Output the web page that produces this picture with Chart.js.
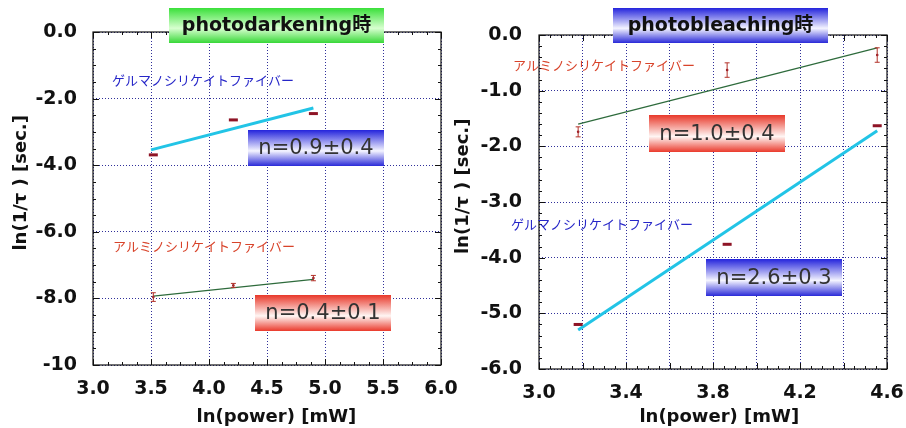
<!DOCTYPE html>
<html><head><meta charset="utf-8">
<script src="https://cdn.jsdelivr.net/npm/chart.js@4/dist/chart.umd.min.js"></script>
<style>
html,body{margin:0;padding:0;background:#fff;}
#wrap{position:relative;width:906px;height:428px;background:#fff;overflow:hidden;}
canvas{position:absolute;top:0;}
</style></head><body>
<div id="wrap">
<canvas id="c1" width="472" height="428" style="left:0"></canvas>
<canvas id="c2" width="453" height="428" style="left:453px"></canvas>
</div>
<script>
// ---------- data ----------
const darkPower = [3.52, 4.21, 4.90];
const darkGeValues = [-3.69, -2.64, -2.45];
const darkAlValues = [-7.96, -7.61, -7.39];
const darkAlErrors = [0.13, 0.06, 0.08];
const darkGeFitX = [3.50, 4.90];
const darkGeFitY = [-3.54, -2.28];
const darkAlFitX = [3.52, 4.90];
const darkAlFitY = [-7.93, -7.43];

const bleachPower = [3.18, 3.865, 4.555];
const bleachAlValues = [-1.74, -0.63, -0.36];
const bleachAlErrors = [0.09, 0.13, 0.13];
const bleachGeValues = [-5.20, -3.76, -1.63];
const bleachAlFitX = [3.18, 4.555];
const bleachAlFitY = [-1.60, -0.23];
const bleachGeFitX = [3.18, 4.555];
const bleachGeFitY = [-5.30, -1.72];

const darkXTicks = [3.0, 3.5, 4.0, 4.5, 5.0, 5.5, 6.0];
const darkXLabels = ['3.0', '3.5', '4.0', '4.5', '5.0', '5.5', '6.0'];
const darkYTicks = [0, -2, -4, -6, -8, -10];
const darkYLabels = ['0.0', '-2.0', '-4.0', '-6.0', '-8.0', '-10'];
const bleachXTicks = [3.0, 3.2, 3.4, 3.6, 3.8, 4.0, 4.2, 4.4, 4.6];
const bleachXLabels = ['3.0', '', '3.4', '', '3.8', '', '4.2', '', '4.6'];
const bleachYTicks = [0, -1, -2, -3, -4, -5, -6];
const bleachYLabels = ['0.0', '-1.0', '-2.0', '-3.0', '-4.0', '-5.0', '-6.0'];

const geName = 'ゲルマノシリケイトファイバー';
const alName = 'アルミノシリケイトファイバー';
const darkTitle = 'photodarkening時';
const bleachTitle = 'photobleaching時';
const darkGeFitLabel = 'n=0.9±0.4';
const darkAlFitLabel = 'n=0.4±0.1';
const bleachAlFitLabel = 'n=1.0±0.4';
const bleachGeFitLabel = 'n=2.6±0.3';
const xTitle = 'ln(power) [mW]';
const yTitle = 'ln(1/τ ) [sec.]';

// ---------- helpers ----------
const pts = (xs, ys) => xs.map((x, i) => ({x: x, y: ys[i]}));
const LAT = '"DejaVu Sans", "Noto Sans CJK JP", sans-serif';
const CJK = '"Noto Sans CJK JP", sans-serif';

const extrasPlugin = {
  id: 'extras',
  afterDatasetsDraw(chart, args, o) {
    const ctx = chart.ctx, xs = chart.scales.x, ys = chart.scales.y, a = chart.chartArea;
    // error bars
    chart.data.datasets.forEach(ds => {
      if (!ds.errors) return;
      ctx.save();
      ctx.strokeStyle = ds.errorColor; ctx.lineWidth = 1;
      ds.data.forEach((p, i) => {
        const x = xs.getPixelForValue(p.x);
        const y1 = ys.getPixelForValue(p.y + ds.errors[i]);
        const y2 = ys.getPixelForValue(p.y - ds.errors[i]);
        ctx.beginPath();
        ctx.moveTo(x, y1); ctx.lineTo(x, y2);
        ctx.moveTo(x - 2.5, y1); ctx.lineTo(x + 2.5, y1);
        ctx.moveTo(x - 2.5, y2); ctx.lineTo(x + 2.5, y2);
        ctx.stroke();
      });
      ctx.restore();
    });
    // frame + inward ticks
    ctx.save();
    ctx.strokeStyle = '#111'; ctx.lineWidth = 1.2;
    ctx.strokeRect(a.left, a.top, a.right - a.left, a.bottom - a.top);
    ctx.lineWidth = 1;
    ctx.beginPath();
    const nx = Math.round((xs.max - xs.min) / o.minorX);
    for (let i = 0; i <= nx; i++) {
      const v = xs.min + i * o.minorX;
      const x = Math.round(xs.getPixelForValue(v)) + 0.5;
      const len = (i % o.majorEveryX === 0) ? 6 : 3;
      ctx.moveTo(x, a.bottom); ctx.lineTo(x, a.bottom - len);
      ctx.moveTo(x, a.top); ctx.lineTo(x, a.top + len);
    }
    const ny = Math.round((ys.max - ys.min) / o.minorY);
    for (let i = 0; i <= ny; i++) {
      const v = ys.min + i * o.minorY;
      const y = Math.round(ys.getPixelForValue(v)) + 0.5;
      const len = (i % o.majorEveryY === 0) ? 6 : 3;
      ctx.moveTo(a.left, y); ctx.lineTo(a.left + len, y);
      ctx.moveTo(a.right, y); ctx.lineTo(a.right - len, y);
    }
    ctx.stroke();
    ctx.restore();
  },
  afterDraw(chart, args, o) {
    const ctx = chart.ctx;
    (o.boxes || []).forEach(b => {
      ctx.save();
      const g = ctx.createLinearGradient(0, b.y, 0, b.y + b.h);
      g.addColorStop(0, b.c1);
      g.addColorStop(0.58, b.c2);
      g.addColorStop(1, b.c3);
      ctx.fillStyle = g;
      ctx.fillRect(b.x, b.y, b.w, b.h);
      ctx.fillStyle = b.color;
      ctx.font = b.font;
      ctx.textAlign = 'center'; ctx.textBaseline = 'middle';
      ctx.fillText(b.text, b.x + b.w / 2, b.y + b.h / 2 + 1);
      ctx.restore();
    });
    (o.texts || []).forEach(t => {
      ctx.save();
      ctx.fillStyle = t.color; ctx.font = t.font;
      ctx.textAlign = 'left'; ctx.textBaseline = 'middle';
      ctx.fillText(t.text, t.x, t.y);
      ctx.restore();
    });
  }
};

function makeChart(id, cfg) {
  const tickFont = {family: LAT, size: 19, weight: 'bold'};
  return new Chart(document.getElementById(id), {
    type: 'scatter',
    data: {datasets: cfg.datasets},
    options: {
      responsive: false, animation: false,
      layout: {padding: cfg.padding},
      plugins: {legend: {display: false}, tooltip: {enabled: false}, extras: cfg.extras},
      scales: {
        x: {
          type: 'linear', min: cfg.xTicks[0], max: cfg.xTicks[cfg.xTicks.length - 1],
          afterBuildTicks: s => { s.ticks = cfg.xTicks.map(v => ({value: v})); },
          afterFit: s => { s.height = cfg.xH; s.paddingLeft = 0; s.paddingRight = 0; },
          ticks: {font: tickFont, color: '#111', padding: cfg.xTickPad, maxRotation: 0, autoSkip: false,
            callback: (v, i) => cfg.xLabels[i]},
          grid: {color: '#30309a', lineWidth: 1, drawTicks: false},
          border: {display: false, dash: [1, 2]},
          title: {display: true, text: cfg.xTitle, font: {family: LAT, size: 18, weight: 'bold'}, color: '#111', padding: {top: cfg.xTitlePad, bottom: 0}}
        },
        y: {
          type: 'linear', min: cfg.yTicks[cfg.yTicks.length - 1], max: cfg.yTicks[0],
          afterBuildTicks: s => { s.ticks = cfg.yTicks.slice().reverse().map(v => ({value: v})); },
          afterFit: s => { s.width = cfg.yW; s.paddingTop = 0; s.paddingBottom = 0; },
          ticks: {font: tickFont, color: '#111', padding: cfg.yTickPad, autoSkip: false,
            callback: (v, i) => cfg.yLabels[cfg.yLabels.length - 1 - i]},
          grid: {color: '#30309a', lineWidth: 1, drawTicks: false},
          border: {display: false, dash: [1, 2]},
          title: {display: true, text: cfg.yTitle, font: {family: LAT, size: 18, weight: 'bold'}, color: '#111', padding: {top: cfg.yTitlePad, bottom: 0}}
        }
      }
    },
    plugins: [extrasPlugin]
  });
}

const cyan = '#22c4e6';
const green = '#2e6b3c';
const marker = '#8e1426';
const errCol = '#b3322a';

function geDots(xs, ys) {
  return {type: 'scatter', data: pts(xs, ys), pointStyle: 'line', pointRadius: 4.5, pointBorderWidth: 3,
    borderColor: marker, backgroundColor: marker, order: 1};
}
function alDots(xs, ys, errs) {
  return {type: 'scatter', data: pts(xs, ys), pointStyle: 'circle', pointRadius: 1.3, pointBorderWidth: 0,
    backgroundColor: marker, borderColor: marker, errors: errs, errorColor: errCol, order: 1};
}
function fitLine(xs, ys, col, w) {
  return {type: 'line', data: pts(xs, ys), showLine: true, borderColor: col, borderWidth: w, pointRadius: 0, order: 2};
}

const boxStyle = {
  blue: {c1: '#2424dc', c2: '#f4f4ff', c3: '#2a2ad8'},
  red: {c1: '#e8382a', c2: '#fff6f4', c3: '#ea3a2c'},
  green: {c1: '#3ae03a', c2: '#d8ffd0', c3: '#38d838'}
};
const labelFont = '21px ' + LAT;
const titleFont = 'bold 19px ' + LAT;
const nameFont = '13px ' + CJK;

makeChart('c1', {
  padding: {left: 0, top: 32, right: 31, bottom: 0},
  xTicks: darkXTicks, xLabels: darkXLabels, yTicks: darkYTicks, yLabels: darkYLabels,
  xH: 63, yW: 93, xTickPad: 13, yTickPad: 16, xTitlePad: 5, yTitlePad: 11,
  xTitle: '   ' + xTitle, yTitle: '     ' + yTitle,
  datasets: [
    fitLine(darkGeFitX, darkGeFitY, cyan, 3),
    fitLine(darkAlFitX, darkAlFitY, green, 1.2),
    geDots(darkPower, darkGeValues),
    alDots(darkPower, darkAlValues, darkAlErrors)
  ],
  extras: {
    minorX: 0.125, majorEveryX: 4, minorY: 0.5, majorEveryY: 4,
    boxes: [
      Object.assign({x: 169, y: 8, w: 215, h: 35, text: darkTitle, font: titleFont, color: '#111'}, boxStyle.green),
      Object.assign({x: 248, y: 130, w: 136, h: 36, text: darkGeFitLabel, font: labelFont, color: '#333'}, boxStyle.blue),
      Object.assign({x: 255, y: 295, w: 136, h: 36, text: darkAlFitLabel, font: labelFont, color: '#333'}, boxStyle.red)
    ],
    texts: [
      {x: 112, y: 80, text: geName, font: nameFont, color: '#2626c8'},
      {x: 113, y: 246, text: alName, font: nameFont, color: '#d8432a'}
    ]
  }
});

makeChart('c2', {
  padding: {left: 0, top: 35, right: 19, bottom: 0},
  xTicks: bleachXTicks, xLabels: bleachXLabels, yTicks: bleachYTicks, yLabels: bleachYLabels,
  xH: 59, yW: 86, xTickPad: 13, yTickPad: 17, xTitlePad: 5, yTitlePad: 0,
  xTitle: '  ' + xTitle, yTitle: '     ' + yTitle,
  datasets: [
    fitLine(bleachGeFitX, bleachGeFitY, cyan, 3),
    fitLine(bleachAlFitX, bleachAlFitY, green, 1.2),
    geDots(bleachPower, bleachGeValues),
    alDots(bleachPower, bleachAlValues, bleachAlErrors)
  ],
  extras: {
    minorX: 0.05, majorEveryX: 4, minorY: 0.2, majorEveryY: 5,
    boxes: [
      Object.assign({x: 160, y: 8, w: 215, h: 35, text: bleachTitle, font: titleFont, color: '#111'}, boxStyle.blue),
      Object.assign({x: 196, y: 115, w: 136, h: 37, text: bleachAlFitLabel, font: labelFont, color: '#333'}, boxStyle.red),
      Object.assign({x: 253, y: 259, w: 136, h: 37, text: bleachGeFitLabel, font: labelFont, color: '#333'}, boxStyle.blue)
    ],
    texts: [
      {x: 60, y: 65, text: alName, font: nameFont, color: '#d8432a'},
      {x: 58, y: 224, text: geName, font: nameFont, color: '#2626c8'}
    ]
  }
});
</script>
</body></html>
